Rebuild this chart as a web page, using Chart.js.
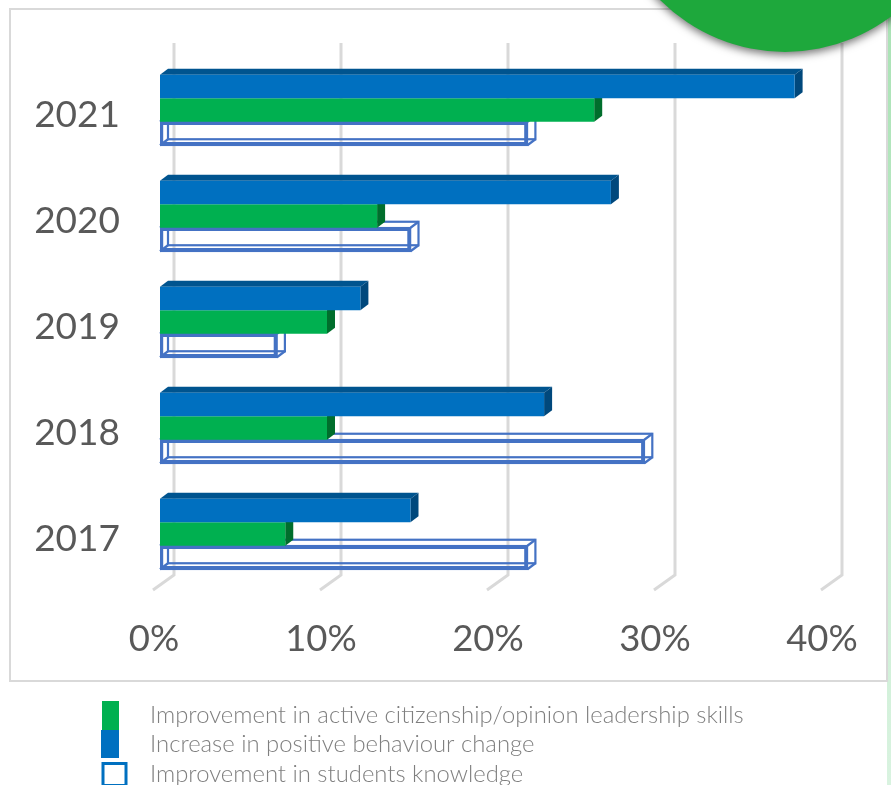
<!DOCTYPE html>
<html>
<head>
<meta charset="utf-8">
<style>
html,body{margin:0;padding:0;background:#fff;overflow:hidden}
#wrap{position:relative;width:891px;height:785px}
canvas{display:block}
</style>
<script src="https://cdn.jsdelivr.net/npm/chart.js@4"></script>
</head>
<body>
<div id="wrap"><canvas id="c" width="891" height="785"></canvas></div>
<script>
const years = ['2021','2020','2019','2018','2017'];
const behaviour = [38,27,12,23,15];
const citizenship = [26,13,10,10,7.5];
const knowledge = [22,15,7,29,22];
const nameCitizenship = 'Improvement in active citizenship/opinion leadership skills';
const nameBehaviour = 'Increase in positive behaviour change';
const nameKnowledge = 'Improvement in students knowledge';

const DX = 8, DY = -6;

function poly(ctx, pts, fill){
  ctx.beginPath();
  pts.forEach((p,i)=> i?ctx.lineTo(p[0],p[1]):ctx.moveTo(p[0],p[1]));
  ctx.closePath();
  ctx.fillStyle = fill;
  ctx.fill();
}

const scenery = {
  id:'scenery',
  beforeDraw(chart){
    const ctx = chart.ctx;
    ctx.save();
    ctx.fillStyle='#ffffff';
    ctx.fillRect(0,0,891,785);
    // right band
    const g = ctx.createLinearGradient(0,0,0,785);
    g.addColorStop(0,'#a9e2b4');
    g.addColorStop(1,'#d9f3e0');
    ctx.fillStyle=g;
    ctx.fillRect(887,0,4,785);
    // panel frame
    ctx.strokeStyle='#d9d9d9';
    ctx.lineWidth=2;
    ctx.strokeRect(10,9,877,672);
    ctx.restore();
  },
  beforeDatasetsDraw(chart){
    const ctx = chart.ctx, x = chart.scales.x;
    ctx.save();
    ctx.strokeStyle='#d9d9d9';
    ctx.lineWidth=3;
    x.ticks.forEach(t=>{
      const px = x.getPixelForValue(t.value);
      ctx.beginPath();
      ctx.moveTo(px+14,43);
      ctx.lineTo(px+14,575);
      ctx.lineTo(px-7,590);
      ctx.stroke();
    });
    ctx.restore();
  },
  beforeDatasetDraw(chart,args){
    const ctx = chart.ctx, i = args.index;
    ctx.save();
    args.meta.data.forEach(bar=>{
      const p = bar.getProps(['x','y','base','height'],true);
      const l=p.base, r=p.x, t=p.y-p.height/2, b=p.y+p.height/2;
      if(i===0){
        poly(ctx,[[l,t],[l+DX,t+DY],[r+DX,t+DY],[r,t]],'#00548f');
        poly(ctx,[[r,t],[r+DX,t+DY],[r+DX,b+DY],[r,b]],'#00487c');
      } else if(i===1){
        poly(ctx,[[r,t],[r+DX,t+DY],[r+DX,b+DY],[r,b]],'#006e2c');
      } else {
        ctx.strokeStyle='#4472c4';
        ctx.lineWidth=2.2;
        ctx.strokeRect(l+DX,t+DY,r-l,b-t);
        ctx.beginPath();
        ctx.moveTo(l,t);ctx.lineTo(l+DX,t+DY);
        ctx.moveTo(r,t);ctx.lineTo(r+DX,t+DY);
        ctx.moveTo(l,b);ctx.lineTo(l+DX,b+DY);
        ctx.moveTo(r,b);ctx.lineTo(r+DX,b+DY);
        ctx.stroke();
      }
    });
    ctx.restore();
  },
  afterDraw(chart){
    const ctx = chart.ctx;
    ctx.save();
    // badge in the top right corner
    ctx.beginPath();
    ctx.rect(0,0,891,785);
    ctx.clip();
    ctx.shadowColor='rgba(0,0,0,0.55)';
    ctx.shadowBlur=9;
    ctx.shadowOffsetY=3;
    ctx.fillStyle='#1ea83c';
    ctx.beginPath();
    ctx.arc(785,-124,176,0,Math.PI*2);
    ctx.fill();
    ctx.restore();
    // legend
    ctx.save();
    const ds = chart.data.datasets;
    ctx.fillStyle=ds[1].backgroundColor;
    ctx.fillRect(102,701,17,29);
    ctx.fillStyle=ds[0].backgroundColor;
    ctx.fillRect(101,730,18,28);
    ctx.strokeStyle='#0070c0';
    ctx.lineWidth=3;
    ctx.strokeRect(103,763.5,23,22);
    ctx.font='300 23.85px Lato';
    ctx.fillStyle='#7f7f7f';
    ctx.textBaseline='middle';
    ctx.textAlign='left';
    ctx.fillText(ds[1].label,150,715);
    ctx.fillText(ds[0].label,150,744);
    ctx.fillText(ds[2].label,150,774);
    ctx.restore();
  }
};

new Chart(document.getElementById('c'),{
  type:'bar',
  data:{
    labels:years,
    datasets:[
      {label:nameBehaviour,data:behaviour,backgroundColor:'#0070c0',borderWidth:0},
      {label:nameCitizenship,data:citizenship,backgroundColor:'#00b050',borderWidth:0},
      {label:nameKnowledge,data:knowledge,backgroundColor:'rgba(255,255,255,0)',borderColor:'#4472c4',borderWidth:2.2,borderSkipped:false,inflateAmount:1}
    ]
  },
  options:{
    indexAxis:'y',
    responsive:false,
    animation:false,
    devicePixelRatio:1,
    layout:{padding:{top:57,right:63,left:0,bottom:0}},
    datasets:{bar:{barPercentage:1,categoryPercentage:0.665}},
    plugins:{legend:{display:false},tooltip:{enabled:false},title:{display:false}},
    scales:{
      x:{
        min:0,max:40,
        afterFit(s){s.height=198;s.paddingLeft=0;s.paddingRight=0;},
        grid:{display:false},
        border:{display:false},
        ticks:{stepSize:10,maxRotation:0,padding:22,labelOffset:-6,color:'#595959',
          font:{family:'Lato',size:36.5},callback:v=>v+'%'}
      },
      y:{
        afterFit(s){s.width=160;s.paddingTop=0;s.paddingBottom=0;},
        grid:{display:false},
        border:{display:false},
        ticks:{padding:32,labelOffset:5.5,color:'#595959',font:{family:'Lato',size:37}}
      }
    }
  },
  plugins:[scenery]
});
</script>
</body>
</html>
